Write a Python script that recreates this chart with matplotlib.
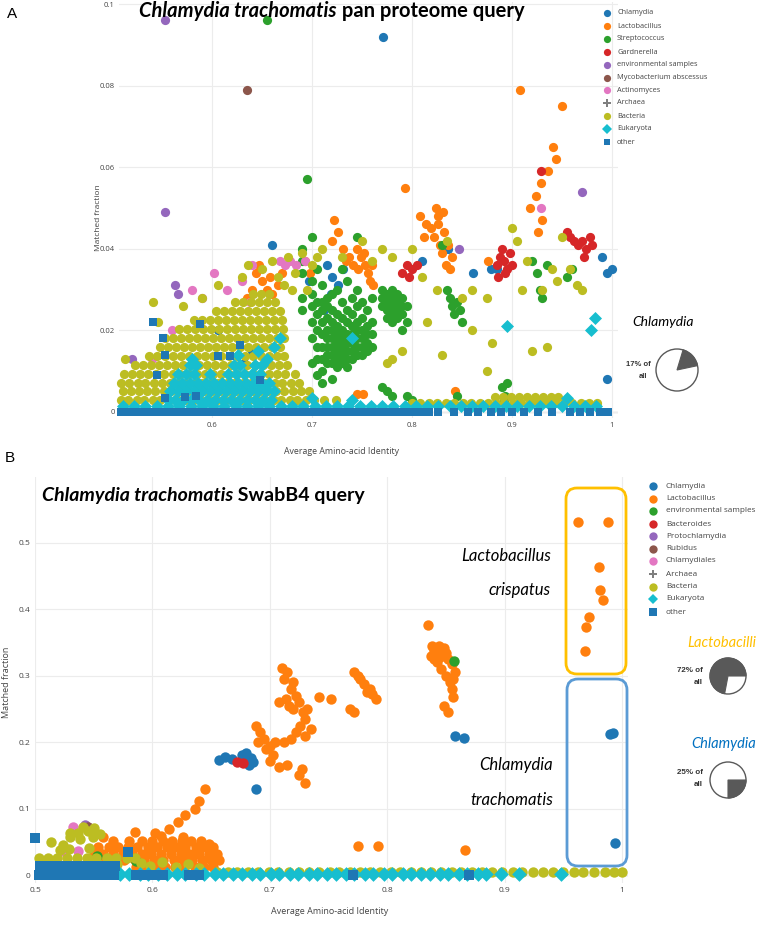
import matplotlib
matplotlib.use("Agg")
import matplotlib.pyplot as plt
import matplotlib.transforms as mtransforms
from matplotlib.patches import Wedge, FancyBboxPatch, Circle
from matplotlib.lines import Line2D

# ====================== DATA : PANEL A ======================
A_legend = ["Chlamydia", "Lactobacillus", "Streptococcus", "Gardnerella",
            "environmental samples", "Mycobacterium abscessus", "Actinomyces",
            "Archaea", "Bacteria", "Eukaryota", "other"]
B_legend = ["Chlamydia", "Lactobacillus", "environmental samples", "Bacteroides",
            "Protochlamydia", "Rubidus", "Chlamydiales", "Archaea", "Bacteria",
            "Eukaryota", "other"]
COLORS = ["#1f77b4", "#ff7f0e", "#2ca02c", "#d62728", "#9467bd", "#8c564b",
          "#e377c2", "#7f7f7f", "#bcbd22", "#17becf", "#1f77b4"]
MARKERS = ["o", "o", "o", "o", "o", "o", "o", "P", "o", "D", "s"]

A_xticks = [0.6, 0.7, 0.8, 0.9, 1.0]
A_xticklabels = ["0.6", "0.7", "0.8", "0.9", "1"]
A_yticks = [0, 0.02, 0.04, 0.06, 0.08, 0.1]
A_yticklabels = ["0", "0.02", "0.04", "0.06", "0.08", "0.1"]
B_xticks = [0.5, 0.6, 0.7, 0.8, 0.9, 1.0]
B_xticklabels = ["0.5", "0.6", "0.7", "0.8", "0.9", "1"]
B_yticks = [0, 0.1, 0.2, 0.3, 0.4, 0.5]
B_yticklabels = ["0", "0.1", "0.2", "0.3", "0.4", "0.5"]

A_chlam_x = [0.771, 0.660, 0.715, 0.720, 0.726, 0.719, 0.731, 0.697, 0.810, 0.836,
             0.861, 0.879, 0.885, 0.990, 0.995, 1.000, 0.995, 0.640, 0.632, 0.606, 0.712]
A_chlam_y = [0.092, 0.041, 0.036, 0.033, 0.031, 0.029, 0.035, 0.032, 0.037, 0.040,
             0.034, 0.035, 0.035, 0.038, 0.034, 0.035, 0.008, 0.015, 0.012, 0.020, 0.025]

A_lacto_x = [0.908, 0.950, 0.941, 0.944, 0.936, 0.929, 0.924, 0.918, 0.930, 0.926,
             0.793, 0.808, 0.814, 0.819, 0.822, 0.826, 0.828, 0.830, 0.832, 0.834,
             0.836, 0.840, 0.826, 0.831, 0.824, 0.838, 0.812,
             0.722, 0.726, 0.720, 0.731, 0.737, 0.741, 0.746, 0.749, 0.753, 0.756,
             0.758, 0.761, 0.745, 0.752, 0.734, 0.760,
             0.644, 0.650, 0.655, 0.660, 0.666, 0.640, 0.635, 0.647, 0.658, 0.670,
             0.693, 0.698, 0.745, 0.751, 0.843, 0.876]
A_lacto_y = [0.079, 0.075, 0.065, 0.062, 0.059, 0.056, 0.053, 0.050, 0.047, 0.044,
             0.055, 0.048, 0.046, 0.045, 0.043, 0.046, 0.041, 0.039, 0.044, 0.036,
             0.041, 0.038, 0.048, 0.049, 0.050, 0.035, 0.043,
             0.047, 0.044, 0.042, 0.040, 0.038, 0.036, 0.035, 0.038, 0.036, 0.034,
             0.032, 0.031, 0.040, 0.039, 0.037, 0.036,
             0.034, 0.032, 0.030, 0.029, 0.031, 0.030, 0.028, 0.036, 0.033, 0.034,
             0.037, 0.034, 0.0045, 0.0045, 0.005, 0.037]

A_strep_cols_x = [0.690, 0.700, 0.705, 0.710, 0.715, 0.720, 0.725, 0.730, 0.735, 0.740,
                  0.745, 0.750, 0.755, 0.760, 0.770, 0.775, 0.780, 0.785, 0.790, 0.795]
A_strep_cols_y = [
    [0.040, 0.037, 0.034, 0.028, 0.025],
    [0.043, 0.032, 0.029, 0.026, 0.022, 0.018, 0.012],
    [0.035, 0.027, 0.024, 0.020, 0.016, 0.013, 0.009],
    [0.031, 0.027, 0.025, 0.022, 0.019, 0.016, 0.013, 0.010, 0.007],
    [0.028, 0.026, 0.023, 0.020, 0.018, 0.016, 0.014, 0.012],
    [0.029, 0.025, 0.022, 0.020, 0.018, 0.016, 0.014, 0.012, 0.008],
    [0.030, 0.024, 0.021, 0.019, 0.017, 0.015, 0.013, 0.011],
    [0.035, 0.027, 0.023, 0.020, 0.018, 0.016, 0.014, 0.012],
    [0.032, 0.025, 0.022, 0.019, 0.017, 0.015, 0.013, 0.011],
    [0.028, 0.024, 0.021, 0.019, 0.017, 0.015, 0.013],
    [0.043, 0.030, 0.026, 0.022, 0.020, 0.018, 0.016, 0.014],
    [0.027, 0.023, 0.020, 0.018, 0.016, 0.014],
    [0.025, 0.021, 0.019, 0.017, 0.015],
    [0.028, 0.022, 0.019, 0.016],
    [0.030, 0.028, 0.026, 0.006],
    [0.029, 0.027, 0.025, 0.023, 0.005],
    [0.030, 0.028, 0.026, 0.024, 0.022, 0.004],
    [0.029, 0.027, 0.025, 0.023],
    [0.028, 0.026, 0.024, 0.020],
    [0.026, 0.022, 0.004],
]
A_strep_extra_x = [0.655, 0.695, 0.830, 0.835, 0.838, 0.840, 0.842, 0.845, 0.848, 0.850,
                   0.845, 0.890, 0.893, 0.895, 0.892, 0.920, 0.925, 0.928, 0.930, 0.935,
                   0.955, 0.960, 0.800]
A_strep_extra_y = [0.096, 0.057, 0.041, 0.030, 0.028, 0.026, 0.024, 0.027, 0.025, 0.022,
                   0.004, 0.006, 0.004, 0.007, 0.003, 0.037, 0.034, 0.030, 0.028, 0.036,
                   0.033, 0.035, 0.003]

A_gard_x = [0.929, 0.885, 0.888, 0.890, 0.892, 0.895, 0.898, 0.900, 0.893, 0.886,
            0.958, 0.962, 0.966, 0.970, 0.974, 0.978, 0.972, 0.980, 0.955,
            0.790, 0.795, 0.800, 0.805, 0.797]
A_gard_y = [0.059, 0.036, 0.038, 0.040, 0.037, 0.035, 0.039, 0.036, 0.034, 0.033,
            0.043, 0.042, 0.041, 0.042, 0.040, 0.043, 0.038, 0.041, 0.044,
            0.034, 0.036, 0.035, 0.036, 0.033]

A_env_x = [0.553, 0.553, 0.563, 0.566, 0.970, 0.847, 0.520]
A_env_y = [0.096, 0.049, 0.031, 0.029, 0.054, 0.040, 0.013]

A_myco_x = [0.635]
A_myco_y = [0.079]

A_actino_x = [0.602, 0.668, 0.673, 0.678, 0.684, 0.693, 0.929, 0.615, 0.590, 0.630,
              0.560, 0.540, 0.640, 0.580, 0.638]
A_actino_y = [0.034, 0.037, 0.036, 0.037, 0.036, 0.037, 0.050, 0.030, 0.028, 0.032,
              0.020, 0.013, 0.036, 0.030, 0.027]

A_bact_rows_y = [0.003, 0.005, 0.0072, 0.0094, 0.0116, 0.0138, 0.016, 0.0182,
                 0.0204, 0.0226, 0.0248, 0.027, 0.029]
A_bact_rows_x = [
    [0.509, 0.516, 0.525, 0.532, 0.541, 0.548, 0.557, 0.566, 0.573, 0.582, 0.589, 0.598,
     0.605, 0.614, 0.621, 0.630, 0.637, 0.646, 0.653, 0.662, 0.669, 0.678, 0.685, 0.694,
     0.702, 0.712, 0.724],
    [0.511, 0.519, 0.527, 0.535, 0.543, 0.552, 0.559, 0.568, 0.576, 0.584, 0.592, 0.600,
     0.608, 0.617, 0.624, 0.633, 0.641, 0.648, 0.656, 0.664, 0.672, 0.681, 0.689, 0.697],
    [0.509, 0.517, 0.526, 0.533, 0.542, 0.550, 0.558, 0.566, 0.574, 0.583, 0.590, 0.599,
     0.606, 0.615, 0.622, 0.631, 0.639, 0.647, 0.654, 0.663, 0.670, 0.679, 0.687],
    [0.512, 0.520, 0.528, 0.536, 0.544, 0.552, 0.561, 0.568, 0.577, 0.585, 0.593, 0.601,
     0.609, 0.617, 0.625, 0.633, 0.641, 0.649, 0.657, 0.665, 0.673, 0.683],
    [0.523, 0.531, 0.539, 0.547, 0.555, 0.563, 0.571, 0.579, 0.587, 0.595, 0.603, 0.611,
     0.619, 0.627, 0.635, 0.643, 0.651, 0.659, 0.667, 0.675],
    [0.537, 0.545, 0.553, 0.561, 0.569, 0.577, 0.585, 0.593, 0.601, 0.609, 0.617, 0.625,
     0.633, 0.641, 0.649, 0.657, 0.665, 0.672],
    [0.548, 0.556, 0.564, 0.572, 0.580, 0.588, 0.596, 0.604, 0.612, 0.620, 0.628, 0.636,
     0.644, 0.652, 0.660, 0.668],
    [0.553, 0.561, 0.569, 0.577, 0.585, 0.593, 0.601, 0.609, 0.617, 0.625, 0.633, 0.641,
     0.649, 0.657, 0.665, 0.672],
    [0.567, 0.575, 0.583, 0.591, 0.599, 0.607, 0.615, 0.623, 0.631, 0.639, 0.647, 0.655,
     0.663, 0.671],
    [0.582, 0.590, 0.598, 0.606, 0.614, 0.622, 0.630, 0.638, 0.646, 0.654, 0.662, 0.670],
    [0.604, 0.612, 0.620, 0.628, 0.636, 0.644, 0.652, 0.660, 0.668],
    [0.623, 0.631, 0.639, 0.647, 0.655, 0.663],
    [0.641, 0.649, 0.657],
]
A_bact_extra_x = [0.513, 0.541, 0.546, 0.571, 0.590, 0.606, 0.630, 0.636, 0.650, 0.666,
                  0.676, 0.680, 0.672, 0.683, 0.690, 0.695, 0.700, 0.705, 0.660,
                  0.710, 0.730, 0.750, 0.760, 0.770, 0.780, 0.800, 0.810, 0.815, 0.825,
                  0.835, 0.850, 0.860, 0.875, 0.880, 0.900, 0.905, 0.910, 0.915, 0.930,
                  0.940, 0.945, 0.950, 0.958, 0.965, 0.970, 0.935, 0.920, 0.775, 0.780,
                  0.790, 0.860, 0.875, 0.830]
A_bact_extra_y = [0.013, 0.027, 0.022, 0.026, 0.028, 0.031, 0.033, 0.036, 0.035, 0.033,
                  0.038, 0.030, 0.031, 0.034, 0.039, 0.030, 0.036, 0.038, 0.037,
                  0.040, 0.038, 0.042, 0.037, 0.040, 0.038, 0.040, 0.033, 0.022, 0.030,
                  0.042, 0.028, 0.030, 0.028, 0.017, 0.045, 0.042, 0.030, 0.037, 0.030,
                  0.035, 0.032, 0.043, 0.035, 0.031, 0.030, 0.016, 0.015, 0.012, 0.013,
                  0.015, 0.020, 0.010, 0.014]
A_bact_base_x = [0.800, 0.808, 0.817, 0.825, 0.834, 0.842, 0.851, 0.859, 0.868, 0.876,
                 0.884, 0.892, 0.901, 0.909, 0.918, 0.926, 0.935, 0.943, 0.952, 0.960,
                 0.969, 0.977, 0.985]
A_bact_base2_x = [0.883, 0.891, 0.899, 0.907, 0.915, 0.923, 0.931, 0.939, 0.946]

A_euk_rows_y = [0.003, 0.005, 0.0072, 0.0094, 0.0116]
A_euk_rows_x = [
    [0.556, 0.563, 0.571, 0.579, 0.587, 0.595, 0.603, 0.611, 0.619, 0.627, 0.635, 0.643,
     0.651, 0.659],
    [0.558, 0.566, 0.574, 0.582, 0.590, 0.598, 0.606, 0.614, 0.622, 0.630, 0.638, 0.646,
     0.654, 0.662],
    [0.562, 0.570, 0.578, 0.586, 0.594, 0.602, 0.610, 0.618, 0.626, 0.634, 0.642, 0.650,
     0.657],
    [0.566, 0.574, 0.582, 0.598, 0.616, 0.624, 0.632, 0.640, 0.648],
    [0.578, 0.584, 0.622, 0.628, 0.643, 0.650],
]
A_euk_extra_x = [0.626, 0.646, 0.655, 0.662, 0.668, 0.580, 0.740, 0.895, 0.979, 0.983,
                 0.955, 0.700, 0.740]
A_euk_extra_y = [0.014, 0.015, 0.013, 0.016, 0.018, 0.013, 0.018, 0.021, 0.020, 0.023,
                 0.0035, 0.0035, 0.003]
A_euk_base_x = [0.511, 0.522, 0.533, 0.545, 0.556, 0.567, 0.579, 0.590, 0.601, 0.612,
                0.624, 0.635, 0.646, 0.657, 0.669, 0.680, 0.691, 0.703, 0.714, 0.725,
                0.736, 0.748, 0.759, 0.770, 0.781, 0.793, 0.804, 0.815, 0.826, 0.838,
                0.849, 0.860, 0.871, 0.883, 0.894, 0.905, 0.917, 0.928, 0.939, 0.950,
                0.962, 0.973, 0.984]

A_other_base_x = [0.509, 0.516, 0.523, 0.530, 0.537, 0.544, 0.551, 0.558, 0.565, 0.572,
                  0.579, 0.586, 0.593, 0.600, 0.607, 0.614, 0.621, 0.628, 0.635, 0.642,
                  0.649, 0.656, 0.663, 0.670, 0.677, 0.684, 0.691, 0.698, 0.705, 0.712,
                  0.719, 0.726, 0.733, 0.740, 0.747, 0.754, 0.761, 0.768, 0.775, 0.782,
                  0.789, 0.796, 0.803, 0.810, 0.817, 0.826,
                  0.842, 0.856, 0.866, 0.879, 0.889, 0.900, 0.912, 0.926, 0.940, 0.958,
                  0.968, 0.978, 0.988, 0.996]
A_other_extra_x = [0.541, 0.551, 0.553, 0.588, 0.606, 0.618, 0.628, 0.648, 0.553, 0.573,
                   0.545, 0.584]
A_other_extra_y = [0.022, 0.018, 0.014, 0.0216, 0.0137, 0.0137, 0.0164, 0.0078, 0.0034,
                   0.0036, 0.009, 0.004]

# ====================== DATA : PANEL B ======================
B_chlam_x = [0.990, 0.992, 0.994, 0.858, 0.865, 0.657, 0.662, 0.668, 0.676, 0.680,
             0.684, 0.686, 0.682, 0.678, 0.688]
B_chlam_y = [0.213, 0.214, 0.048, 0.210, 0.206, 0.173, 0.178, 0.175, 0.180, 0.183,
             0.176, 0.170, 0.165, 0.170, 0.130]

B_lacto_x = [0.9625, 0.988, 0.980, 0.981, 0.984, 0.972, 0.969, 0.968,
             0.835, 0.838, 0.840, 0.843, 0.845, 0.848, 0.850, 0.852, 0.855, 0.842, 0.846,
             0.850, 0.853, 0.855, 0.856, 0.848, 0.852, 0.840, 0.837, 0.844, 0.858, 0.856,
             0.772, 0.777, 0.780, 0.785, 0.787, 0.790, 0.775, 0.768, 0.772, 0.783,
             0.742, 0.752,
             0.710, 0.715, 0.712, 0.720, 0.718, 0.722, 0.714, 0.708, 0.716, 0.725, 0.720,
             0.728, 0.730, 0.726, 0.722, 0.730, 0.718, 0.712, 0.704, 0.715, 0.708, 0.725,
             0.730, 0.727, 0.735, 0.732,
             0.688, 0.692, 0.695, 0.700, 0.697, 0.703, 0.700, 0.690,
             0.585, 0.602, 0.614, 0.622, 0.628, 0.636, 0.640, 0.645,
             0.558, 0.607, 0.626, 0.648, 0.775, 0.792, 0.866]
B_lacto_y = [0.532, 0.532, 0.463, 0.429, 0.414, 0.388, 0.374, 0.338,
             0.376, 0.345, 0.338, 0.333, 0.328, 0.342, 0.335, 0.325, 0.318, 0.320, 0.310,
             0.300, 0.290, 0.280, 0.268, 0.255, 0.245, 0.325, 0.330, 0.345, 0.305, 0.295,
             0.306, 0.295, 0.288, 0.280, 0.272, 0.265, 0.300, 0.250, 0.245, 0.275,
             0.268, 0.265,
             0.312, 0.305, 0.295, 0.290, 0.280, 0.270, 0.265, 0.260, 0.255, 0.260, 0.250,
             0.245, 0.235, 0.225, 0.215, 0.210, 0.205, 0.200, 0.200, 0.165, 0.163, 0.150,
             0.138, 0.160, 0.220, 0.250,
             0.225, 0.215, 0.205, 0.195, 0.190, 0.180, 0.172, 0.200,
             0.065, 0.063, 0.070, 0.080, 0.090, 0.100, 0.112, 0.130,
             0.058, 0.059, 0.057, 0.046, 0.043, 0.043, 0.038]
B_lacto_rows_y = [0.012, 0.022, 0.032, 0.042, 0.051]
B_lacto_rows_x = [
    [0.586, 0.594, 0.603, 0.611, 0.619, 0.627, 0.636, 0.644, 0.652],
    [0.560, 0.568, 0.576, 0.585, 0.593, 0.601, 0.609, 0.618, 0.626, 0.634, 0.642, 0.650, 0.657],
    [0.550, 0.558, 0.566, 0.575, 0.583, 0.591, 0.599, 0.607, 0.616, 0.624, 0.632, 0.640,
     0.648, 0.655],
    [0.554, 0.563, 0.571, 0.579, 0.587, 0.596, 0.604, 0.612, 0.620, 0.628, 0.637, 0.645, 0.652],
    [0.566, 0.580, 0.591, 0.600, 0.609, 0.617, 0.625, 0.633, 0.641],
]

B_env_x = [0.857, 0.586, 0.553]
B_env_y = [0.322, 0.021, 0.029]
B_bacteroides_x = [0.672, 0.677]
B_bacteroides_y = [0.170, 0.168]
B_proto_x = [0.543]
B_proto_y = [0.076]
B_rubidus_x = [0.545]
B_rubidus_y = [0.072]
B_chlamydiales_x = [0.532, 0.524, 0.537, 0.538, 0.545]
B_chlamydiales_y = [0.072, 0.036, 0.036, 0.014, 0.022]

B_bact_row_x = [0.503, 0.511, 0.519, 0.527, 0.536, 0.544, 0.552, 0.561, 0.569, 0.578]
B_bact_extra_x = [0.521, 0.529, 0.546, 0.530, 0.537, 0.545, 0.538, 0.549, 0.530, 0.514,
                  0.524, 0.555, 0.550, 0.541,
                  0.590, 0.598, 0.608, 0.620, 0.630, 0.640, 0.585, 0.570, 0.560, 0.553]
B_bact_extra_y = [0.038, 0.039, 0.040, 0.063, 0.064, 0.066, 0.054, 0.057, 0.057, 0.050,
                  0.045, 0.062, 0.071, 0.072,
                  0.018, 0.014, 0.020, 0.012, 0.016, 0.010, 0.026, 0.016, 0.014, 0.018]
B_bact_base_x = [0.655, 0.664, 0.672, 0.681, 0.690, 0.699, 0.707, 0.716, 0.725, 0.733,
                 0.742, 0.751, 0.759, 0.768, 0.777, 0.785, 0.794, 0.803, 0.811, 0.820,
                 0.829, 0.837, 0.846, 0.855, 0.863, 0.872, 0.881, 0.889, 0.898, 0.907,
                 0.915, 0.924, 0.933, 0.941, 0.950, 0.959, 0.967, 0.976, 0.985, 0.993, 1.000]

B_euk_base_x = [0.572, 0.580, 0.589, 0.596, 0.605, 0.612, 0.621, 0.628, 0.637, 0.644,
                0.653, 0.660, 0.669, 0.676, 0.685, 0.692, 0.701, 0.708, 0.717, 0.724,
                0.733, 0.740, 0.749, 0.756, 0.765, 0.772, 0.781, 0.788, 0.797, 0.804,
                0.813, 0.820, 0.829, 0.836, 0.845, 0.852, 0.861, 0.868, 0.877, 0.884,
                0.897, 0.912, 0.948]

B_other_row0_x = [0.503, 0.511, 0.519, 0.527, 0.535, 0.543, 0.551, 0.559, 0.567, 0.586,
                  0.594, 0.601, 0.609, 0.631, 0.640, 0.771, 0.870]
B_other_row1_x = [0.504, 0.512, 0.520, 0.528, 0.536, 0.544, 0.552, 0.560, 0.568]
B_other_extra_x = [0.500, 0.579]
B_other_extra_y = [0.055, 0.034]

# pie values (percent of all)
A_pie_pct = 17
B_pie_lacto_pct = 72
B_pie_chlam_pct = 25

# ====================== HELPERS ======================
def rows(ys, xss):
    X, Y = [], []
    for y, xs in zip(ys, xss):
        X += list(xs)
        Y += [y] * len(xs)
    return X, Y

def cols(xs, yss):
    X, Y = [], []
    for x, ys in zip(xs, yss):
        X += [x] * len(ys)
        Y += list(ys)
    return X, Y

W, H = 760, 925
fig = plt.figure(figsize=(W / 100, H / 100), dpi=100)
fig.patch.set_facecolor("white")
pxT = mtransforms.Affine2D().scale(1 / 100.0) + fig.dpi_scale_trans

def P(x, y):
    return (x, H - y)

TXT = "#444444"
FONT = "Open Sans"

def style_axes(ax, xt, xtl, yt, ytl, fs):
    ax.set_xticks(xt)
    ax.set_xticklabels(xtl)
    ax.set_yticks(yt)
    ax.set_yticklabels(ytl)
    for s in ax.spines.values():
        s.set_visible(False)
    ax.tick_params(length=0, labelsize=fs, colors=TXT, pad=3)
    for lab in ax.get_xticklabels() + ax.get_yticklabels():
        lab.set_fontfamily(FONT)
    ax.grid(True, color="#ececec", lw=0.8)
    ax.set_axisbelow(True)
    ax.axhline(0, color="#555555", lw=0.8, zorder=0.5)

def sc(ax, x, y, i, s):
    m = MARKERS[i]
    ss = s * (0.8 if m == "s" else 1.0)
    ax.scatter(x, y, s=ss, c=COLORS[i], marker=m, linewidths=0, clip_on=False, zorder=2 + i * 0.01)

# ====================== PANEL A ======================
axA = fig.add_axes([119 / W, (H - 418) / H, 499 / W, 416 / H])
axA.set_xlim(0.507, 1.006)
axA.set_ylim(-0.0015, 0.1005)
style_axes(axA, A_xticks, A_xticklabels, A_yticks, A_yticklabels, 5.5)
sA = 44

sx, sy = cols(A_strep_cols_x, A_strep_cols_y)
bx, by = rows(A_bact_rows_y, A_bact_rows_x)
ex, ey = rows(A_euk_rows_y, A_euk_rows_x)

sc(axA, A_chlam_x, A_chlam_y, 0, sA)
sc(axA, A_lacto_x, A_lacto_y, 1, sA)
sc(axA, sx + A_strep_extra_x, sy + A_strep_extra_y, 2, sA)
sc(axA, A_gard_x, A_gard_y, 3, sA)
sc(axA, A_env_x, A_env_y, 4, sA)
sc(axA, A_myco_x, A_myco_y, 5, sA)
sc(axA, A_actino_x, A_actino_y, 6, sA)
sc(axA, bx + A_bact_extra_x + A_bact_base_x + A_bact_base2_x,
    by + A_bact_extra_y + [0.0022] * len(A_bact_base_x) + [0.0036] * len(A_bact_base2_x), 8, sA)
sc(axA, ex + A_euk_extra_x + A_euk_base_x,
    ey + A_euk_extra_y + [0.0014] * len(A_euk_base_x), 9, sA)
sc(axA, A_other_base_x + A_other_extra_x,
    [0.0] * len(A_other_base_x) + A_other_extra_y, 10, sA)

# ====================== PANEL B ======================
axB = fig.add_axes([35 / W, (H - 883) / H, 593 / W, 406.5 / H])
axB.set_xlim(0.5, 1.005)
axB.set_ylim(-0.012, 0.6)
style_axes(axB, B_xticks, B_xticklabels, B_yticks, B_yticklabels, 6.0)
sB = 56

lx, ly = rows(B_lacto_rows_y, B_lacto_rows_x)
sc(axB, B_chlam_x, B_chlam_y, 0, sB)
sc(axB, lx + B_lacto_x, ly + B_lacto_y, 1, sB)
sc(axB, B_env_x, B_env_y, 2, sB)
sc(axB, B_bacteroides_x, B_bacteroides_y, 3, sB)
sc(axB, B_proto_x, B_proto_y, 4, sB)
sc(axB, B_rubidus_x, B_rubidus_y, 5, sB)
sc(axB, B_chlamydiales_x, B_chlamydiales_y, 6, sB)
sc(axB, B_bact_row_x + B_bact_extra_x + B_bact_base_x,
    [0.026] * len(B_bact_row_x) + B_bact_extra_y + [0.004] * len(B_bact_base_x), 8, sB)
sc(axB, B_euk_base_x, [0.001] * len(B_euk_base_x), 9, sB)
sc(axB, B_other_row0_x + B_other_row1_x + B_other_extra_x,
    [0.0] * len(B_other_row0_x) + [0.013] * len(B_other_row1_x) + B_other_extra_y, 10, sB)

# ====================== AXIS TITLES ======================
fig.text(*P(342, 452), "Average Amino-acid Identity", transform=pxT, ha="center", va="center",
         fontsize=6.3, color=TXT, family=FONT)
fig.text(*P(98, 218), "Matched fraction", transform=pxT, ha="center", va="center",
         rotation=90, fontsize=6.0, color=TXT, family=FONT)
fig.text(*P(330, 912), "Average Amino-acid Identity", transform=pxT, ha="center", va="center",
         fontsize=6.5, color=TXT, family=FONT)
fig.text(*P(7, 682), "Matched fraction", transform=pxT, ha="center", va="center",
         rotation=90, fontsize=6.5, color=TXT, family=FONT)

# panel letters
fig.text(*P(7, 18), "A", transform=pxT, ha="left", va="baseline", fontsize=11,
         family="Liberation Sans", color="black")
fig.text(*P(5, 462), "B", transform=pxT, ha="left", va="baseline", fontsize=11,
         family="Liberation Sans", color="black")

# ====================== TITLES ======================
renderer = fig.canvas.get_renderer()

def two_part_title(x, y, part1, part2, fs, center=False):
    t1 = fig.text(*P(x, y), part1, transform=pxT, ha="left", va="baseline", fontsize=fs,
                  family="Lato", fontweight="bold", fontstyle="italic", color="black")
    t2 = fig.text(*P(x, y), part2, transform=pxT, ha="left", va="baseline", fontsize=fs,
                  family="Lato", fontweight="bold", color="black")
    w1 = t1.get_window_extent(renderer).width
    w2 = t2.get_window_extent(renderer).width
    x0 = x - (w1 + w2) / 2 if center else x
    t1.set_position(P(x0, y))
    t2.set_position(P(x0 + w1, y))

two_part_title(332, 17, "Chlamydia trachomatis", " pan proteome query", 14.5, center=True)
two_part_title(42, 501, "Chlamydia trachomatis", " SwabB4 query", 14.0)

# ====================== LEGENDS ======================
def legend(labels, xm, xt, ys, fs, ms):
    for i, (lab, y) in enumerate(zip(labels, ys)):
        m = MARKERS[i]
        size = ms * (0.9 if m in ("s", "D") else 1.0)
        fig.add_artist(Line2D([xm], [H - y], transform=pxT, marker=m, markersize=size,
                              color=COLORS[i], markeredgewidth=0, linestyle="none"))
        fig.text(xt, H - y, lab, transform=pxT, ha="left", va="center", fontsize=fs,
                 color=TXT, family=FONT)

legend(A_legend, 607, 617, [13, 26, 39, 52, 64.5, 77.5, 90, 103, 116, 129, 142], 5.3, 5.2)
legend(B_legend, 653, 666, [486, 499, 511, 524, 536, 549, 561, 574, 587, 599, 612], 5.9, 6.0)

# ====================== PIES ======================
PIE_DARK = "#595959"

def pie(cx, cy, r, t1, t2):
    fig.add_artist(Circle(P(cx, cy), r, transform=pxT, facecolor="white",
                          edgecolor=PIE_DARK, lw=1.0))
    fig.add_artist(Wedge(P(cx, cy), r, t1, t2, transform=pxT, facecolor=PIE_DARK,
                         edgecolor=PIE_DARK, lw=0.8))

# panel A pie (17% dark)
a_start = 12
pie(677, 370, 21, a_start, a_start + 360 * A_pie_pct / 100)
fig.text(*P(663, 322), "Chlamydia", transform=pxT, ha="center", va="center", fontsize=10,
         family="Lato", fontstyle="italic", color="black")
fig.text(*P(651, 364), f"{A_pie_pct}% of", transform=pxT, ha="right", va="center",
         fontsize=5.5, family="Liberation Sans", fontweight="bold", color="#333333")
fig.text(*P(647, 377), "all", transform=pxT, ha="right", va="center",
         fontsize=5.5, family="Liberation Sans", fontweight="bold", color="#333333")

# panel B pies
pie(728, 676, 18, 0, 360 * B_pie_lacto_pct / 100)
fig.text(*P(722, 643), "Lactobacilli", transform=pxT, ha="center", va="center", fontsize=10.5,
         family="Lato", fontstyle="italic", color="#FFC000")
fig.text(*P(703, 670), f"{B_pie_lacto_pct}% of", transform=pxT, ha="right", va="center",
         fontsize=5.8, family="Liberation Sans", fontweight="bold", color="#333333")
fig.text(*P(703, 682), "all", transform=pxT, ha="right", va="center",
         fontsize=5.8, family="Liberation Sans", fontweight="bold", color="#333333")

pie(728, 780, 18, 270, 270 + 360 * B_pie_chlam_pct / 100)
fig.text(*P(724, 744), "Chlamydia", transform=pxT, ha="center", va="center", fontsize=10.5,
         family="Lato", fontstyle="italic", color="#0070C0")
fig.text(*P(703, 772), f"{B_pie_chlam_pct}% of", transform=pxT, ha="right", va="center",
         fontsize=5.8, family="Liberation Sans", fontweight="bold", color="#333333")
fig.text(*P(703, 784), "all", transform=pxT, ha="right", va="center",
         fontsize=5.8, family="Liberation Sans", fontweight="bold", color="#333333")

# ====================== BOXES & ANNOTATIONS (panel B) ======================
def rbox(x0, y0, x1, y1, color):
    fig.add_artist(FancyBboxPatch(P(x0, y1), x1 - x0, y1 - y0,
                                  boxstyle="round,pad=0,rounding_size=11", transform=pxT,
                                  facecolor="none", edgecolor=color, lw=2.0, zorder=5))

rbox(566, 488, 626, 674, "#FFC000")
rbox(567, 679, 627, 866, "#5B9BD5")

fig.text(*P(551, 556), "Lactobacillus", transform=pxT, ha="right", va="center", fontsize=12,
         family="Lato", fontstyle="italic", color="black")
fig.text(*P(551, 590), "crispatus", transform=pxT, ha="right", va="center", fontsize=12,
         family="Lato", fontstyle="italic", color="black")
fig.text(*P(553, 765), "Chlamydia", transform=pxT, ha="right", va="center", fontsize=12,
         family="Lato", fontstyle="italic", color="black")
fig.text(*P(553, 800), "trachomatis", transform=pxT, ha="right", va="center", fontsize=12,
         family="Lato", fontstyle="italic", color="black")

fig.savefig("out.png", dpi=100, facecolor="white")
